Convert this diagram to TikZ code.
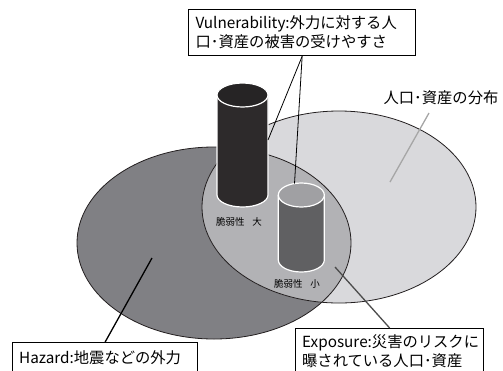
\documentclass[tikz,border=0pt]{standalone}
\usepackage{fontspec}
\setmainfont{Noto Sans CJK JP}
\definecolor{hazardc}{RGB}{128,128,132}
\definecolor{popc}{RGB}{217,217,220}
\definecolor{interc}{RGB}{178,178,181}
\definecolor{tallc}{RGB}{45,42,43}
\definecolor{smallbody}{RGB}{96,96,98}
\definecolor{smalltop}{RGB}{160,160,163}
\definecolor{outl}{RGB}{35,31,32}
\tikzset{
  textbox/.style={draw=black, line width=1.3pt, fill=white, align=left, anchor=north west,
    font=\fontsize{15.3}{19}\selectfont, inner xsep=6pt, inner ysep=4pt},
  cyl/.style={draw=white, line width=1.2pt},
  smalllabel/.style={font=\fontsize{9.5}{11}\selectfont, inner sep=0pt},
  ptr/.style={line width=1.3pt}
}
\begin{document}
\begin{tikzpicture}[x=1pt,y=-1pt]
\useasboundingbox (0,0) rectangle (503,370);
\clip (0,0) rectangle (503,370);
% ellipses
\fill[hazardc] (214,243) ellipse[x radius=137pt, y radius=96pt];
\fill[popc] (339,207) ellipse[x radius=137pt, y radius=96pt];
\begin{scope}
  \clip (214,243) ellipse[x radius=137pt, y radius=96pt];
  \fill[interc] (339,207) ellipse[x radius=137pt, y radius=96pt];
\end{scope}
\draw[outl, line width=0.8pt] (214,243) ellipse[x radius=137pt, y radius=96pt];
\draw[outl, line width=0.8pt] (339,207) ellipse[x radius=137pt, y radius=96pt];
% tall cylinder
\fill[tallc] (217,95) -- (217,195) arc[start angle=180, end angle=360, x radius=25.5pt, y radius=12pt] -- (268,95) -- cycle;
\draw[cyl] (217,95) -- (217,195) arc[start angle=180, end angle=360, x radius=25.5pt, y radius=12pt] -- (268,95);
\draw[cyl, fill=tallc!85!black] (242.5,95) ellipse[x radius=25.5pt, y radius=12pt];
% small cylinder
\fill[smallbody] (278.3,195) -- (278.3,260) arc[start angle=180, end angle=360, x radius=23pt, y radius=12pt] -- (324.3,195) -- cycle;
\draw[cyl] (278.3,195) -- (278.3,260) arc[start angle=180, end angle=360, x radius=23pt, y radius=12pt] -- (324.3,195);
\draw[cyl, fill=smalltop] (301.3,195) ellipse[x radius=23pt, y radius=12pt];
% labels on cylinders
\node[smalllabel] (lbig) at (239,222) {脆弱性\hspace{0.8em}大};
\node[smalllabel] (lsmall) at (297,283.5) {脆弱性\hspace{0.8em}小};
% coordinates
\coordinate (tallpt) at (268,140);
\coordinate (smallpt) at (294.5,183.5);
\coordinate (hzpt) at (152,258);
\coordinate (expt) at (335,267);
\coordinate (poppt) at (390,182);
% boxes
\node[textbox, minimum width=227pt, minimum height=46pt, text width=213pt] (vul) at (188,9)
  {Vulnerability:外力に対する人\\口･資産の被害の受けやすさ};
\node[textbox, minimum width=185pt, minimum height=31pt, text width=172pt] (hz) at (12,342)
  {Hazard:地震などの外力};
\node[textbox, minimum width=188pt, minimum height=46pt, text width=175pt] (ex) at (295,328)
  {Exposure:災害のリスクに\\曝されている人口･資産};
\node[font=\fontsize{15.3}{19}\selectfont, inner sep=0pt] (pop) at (441,98) {人口･資産の分布};
\coordinate (popstart) at (429,113);
% pointers
\draw[line width=0.8pt] (vul.south) -- (tallpt);
\draw[line width=0.8pt] (vul.south) -- (smallpt);
\draw[ptr, black] (hz.north) -- (hzpt);
\draw[ptr, black!70] (ex.north) -- (expt);
\draw[ptr, black!35] (popstart) -- (poppt);
\end{tikzpicture}
\end{document}
